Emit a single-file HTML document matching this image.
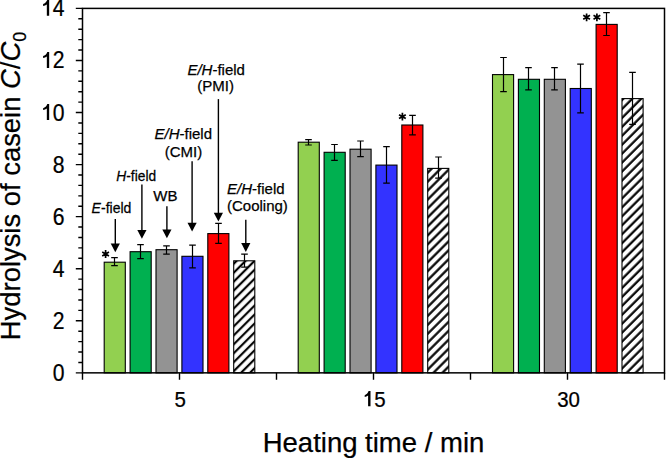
<!DOCTYPE html><html><head><meta charset="utf-8"><style>html,body{margin:0;padding:0;background:#fff;}svg{display:block;}text{font-family:"Liberation Sans",sans-serif;fill:#000;stroke:#000;stroke-width:0.25px;}</style></head><body>
<svg width="666" height="458" viewBox="0 0 666 458">
<defs><pattern id="hatch0" patternUnits="userSpaceOnUse" width="6.329" height="6.329" patternTransform="rotate(45)"><rect width="6.329" height="6.329" fill="#fff"/><rect x="2.577" y="0" width="2.2" height="6.329" fill="#000"/><rect x="-3.752" y="0" width="2.2" height="6.329" fill="#000"/><rect x="8.906" y="0" width="2.2" height="6.329" fill="#000"/></pattern><pattern id="hatch1" patternUnits="userSpaceOnUse" width="6.329" height="6.329" patternTransform="rotate(45)"><rect width="6.329" height="6.329" fill="#fff"/><rect x="-0.605" y="0" width="2.2" height="6.329" fill="#000"/><rect x="-6.934" y="0" width="2.2" height="6.329" fill="#000"/><rect x="5.724" y="0" width="2.2" height="6.329" fill="#000"/></pattern><pattern id="hatch2" patternUnits="userSpaceOnUse" width="6.329" height="6.329" patternTransform="rotate(45)"><rect width="6.329" height="6.329" fill="#fff"/><rect x="3.107" y="0" width="2.2" height="6.329" fill="#000"/><rect x="-3.221" y="0" width="2.2" height="6.329" fill="#000"/><rect x="9.436" y="0" width="2.2" height="6.329" fill="#000"/></pattern></defs>
<rect x="104.20" y="262.20" width="21.10" height="110.65" fill="#92D050" stroke="#000" stroke-width="1.1"/>
<rect x="130.10" y="251.70" width="21.10" height="121.15" fill="#00B050" stroke="#000" stroke-width="1.1"/>
<rect x="156.00" y="249.70" width="21.10" height="123.15" fill="#939393" stroke="#000" stroke-width="1.1"/>
<rect x="181.90" y="256.30" width="21.10" height="116.55" fill="#3333FF" stroke="#000" stroke-width="1.1"/>
<rect x="207.80" y="233.60" width="21.10" height="139.25" fill="#FF0000" stroke="#000" stroke-width="1.1"/>
<rect x="233.70" y="260.80" width="21.10" height="112.05" fill="url(#hatch0)" stroke="#000" stroke-width="1.1"/>
<rect x="298.20" y="142.20" width="21.10" height="230.65" fill="#92D050" stroke="#000" stroke-width="1.1"/>
<rect x="324.10" y="152.30" width="21.10" height="220.55" fill="#00B050" stroke="#000" stroke-width="1.1"/>
<rect x="350.00" y="149.20" width="21.10" height="223.65" fill="#939393" stroke="#000" stroke-width="1.1"/>
<rect x="375.90" y="165.10" width="21.10" height="207.75" fill="#3333FF" stroke="#000" stroke-width="1.1"/>
<rect x="401.80" y="125.00" width="21.10" height="247.85" fill="#FF0000" stroke="#000" stroke-width="1.1"/>
<rect x="427.70" y="168.40" width="21.10" height="204.45" fill="url(#hatch1)" stroke="#000" stroke-width="1.1"/>
<rect x="492.50" y="74.60" width="21.10" height="298.25" fill="#92D050" stroke="#000" stroke-width="1.1"/>
<rect x="518.40" y="79.30" width="21.10" height="293.55" fill="#00B050" stroke="#000" stroke-width="1.1"/>
<rect x="544.30" y="79.30" width="21.10" height="293.55" fill="#939393" stroke="#000" stroke-width="1.1"/>
<rect x="570.20" y="88.50" width="21.10" height="284.35" fill="#3333FF" stroke="#000" stroke-width="1.1"/>
<rect x="596.10" y="24.40" width="21.10" height="348.45" fill="#FF0000" stroke="#000" stroke-width="1.1"/>
<rect x="622.00" y="98.60" width="21.10" height="274.25" fill="url(#hatch2)" stroke="#000" stroke-width="1.1"/>
<path d="M114.50 257.60V265.60M111.20 257.60H117.80M111.20 265.60H117.80" stroke="#000" stroke-width="1.2" fill="none"/>
<path d="M140.50 244.60V258.60M137.20 244.60H143.80M137.20 258.60H143.80" stroke="#000" stroke-width="1.2" fill="none"/>
<path d="M166.50 245.80V254.20M163.20 245.80H169.80M163.20 254.20H169.80" stroke="#000" stroke-width="1.2" fill="none"/>
<path d="M192.50 245.10V267.80M189.20 245.10H195.80M189.20 267.80H195.80" stroke="#000" stroke-width="1.2" fill="none"/>
<path d="M218.50 223.30V243.40M215.20 223.30H221.80M215.20 243.40H221.80" stroke="#000" stroke-width="1.2" fill="none"/>
<path d="M244.50 254.20V267.20M241.20 254.20H247.80M241.20 267.20H247.80" stroke="#000" stroke-width="1.2" fill="none"/>
<path d="M308.50 139.60V145.00M305.20 139.60H311.80M305.20 145.00H311.80" stroke="#000" stroke-width="1.2" fill="none"/>
<path d="M334.50 144.50V160.40M331.20 144.50H337.80M331.20 160.40H337.80" stroke="#000" stroke-width="1.2" fill="none"/>
<path d="M360.50 141.00V156.70M357.20 141.00H363.80M357.20 156.70H363.80" stroke="#000" stroke-width="1.2" fill="none"/>
<path d="M386.50 146.60V183.20M383.20 146.60H389.80M383.20 183.20H389.80" stroke="#000" stroke-width="1.2" fill="none"/>
<path d="M412.50 115.30V134.90M409.20 115.30H415.80M409.20 134.90H415.80" stroke="#000" stroke-width="1.2" fill="none"/>
<path d="M438.50 157.00V178.20M435.20 157.00H441.80M435.20 178.20H441.80" stroke="#000" stroke-width="1.2" fill="none"/>
<path d="M503.50 57.50V91.60M500.20 57.50H506.80M500.20 91.60H506.80" stroke="#000" stroke-width="1.2" fill="none"/>
<path d="M528.50 67.60V89.80M525.20 67.60H531.80M525.20 89.80H531.80" stroke="#000" stroke-width="1.2" fill="none"/>
<path d="M554.50 67.60V89.80M551.20 67.60H557.80M551.20 89.80H557.80" stroke="#000" stroke-width="1.2" fill="none"/>
<path d="M580.50 64.20V112.80M577.20 64.20H583.80M577.20 112.80H583.80" stroke="#000" stroke-width="1.2" fill="none"/>
<path d="M606.50 12.60V35.50M603.20 12.60H609.80M603.20 35.50H609.80" stroke="#000" stroke-width="1.2" fill="none"/>
<path d="M632.50 72.40V124.40M629.20 72.40H635.80M629.20 124.40H635.80" stroke="#000" stroke-width="1.2" fill="none"/>
<rect x="82.5" y="8.4" width="582.0" height="364.45000000000005" fill="none" stroke="#000" stroke-width="1.5"/>
<path d="M75.8 372.85H82.5M78.3 362.44H82.5M78.3 352.02H82.5M78.3 341.61H82.5M78.3 331.20H82.5M75.8 320.79H82.5M78.3 310.37H82.5M78.3 299.96H82.5M78.3 289.55H82.5M78.3 279.13H82.5M75.8 268.72H82.5M78.3 258.31H82.5M78.3 247.90H82.5M78.3 237.48H82.5M78.3 227.07H82.5M75.8 216.66H82.5M78.3 206.24H82.5M78.3 195.83H82.5M78.3 185.42H82.5M78.3 175.01H82.5M75.8 164.59H82.5M78.3 154.18H82.5M78.3 143.77H82.5M78.3 133.35H82.5M78.3 122.94H82.5M75.8 112.53H82.5M78.3 102.12H82.5M78.3 91.70H82.5M78.3 81.29H82.5M78.3 70.88H82.5M75.8 60.46H82.5M78.3 50.05H82.5M78.3 39.64H82.5M78.3 29.23H82.5M78.3 18.81H82.5M75.8 8.40H82.5" stroke="#000" stroke-width="1.4" fill="none"/>
<path d="M82.50 372.85V379.8M179.50 372.85V379.8M276.50 372.85V379.8M373.50 372.85V379.8M470.50 372.85V379.8M567.50 372.85V379.8M664.50 372.85V379.8" stroke="#000" stroke-width="1.4" fill="none"/>
<text transform="translate(64.4,380.85) scale(0.9,1)" font-size="23.5" text-anchor="end">0</text>
<text transform="translate(64.4,328.79) scale(0.9,1)" font-size="23.5" text-anchor="end">2</text>
<text transform="translate(64.4,276.72) scale(0.9,1)" font-size="23.5" text-anchor="end">4</text>
<text transform="translate(64.4,224.66) scale(0.9,1)" font-size="23.5" text-anchor="end">6</text>
<text transform="translate(64.4,172.59) scale(0.9,1)" font-size="23.5" text-anchor="end">8</text>
<path d="M49.17 103.96L49.17 119.96L46.83 119.96L46.83 108.56C45.70 109.46 44.40 109.86 43.10 110.06L43.10 108.16C45.00 107.66 46.60 105.96 47.30 103.96Z" fill="#000"/>
<text transform="translate(64.4,120.53) scale(0.9,1)" font-size="23.5" text-anchor="end">0</text>
<path d="M49.17 51.89L49.17 67.89L46.83 67.89L46.83 56.49C45.70 57.39 44.40 57.79 43.10 57.99L43.10 56.09C45.00 55.59 46.60 53.89 47.30 51.89Z" fill="#000"/>
<text transform="translate(64.4,68.46) scale(0.9,1)" font-size="23.5" text-anchor="end">2</text>
<path d="M49.17 -0.17L49.17 15.83L46.83 15.83L46.83 4.43C45.70 5.33 44.40 5.73 43.10 5.93L43.10 4.03C45.00 3.53 46.60 1.83 47.30 -0.17Z" fill="#000"/>
<text transform="translate(64.4,16.40) scale(0.9,1)" font-size="23.5" text-anchor="end">4</text>
<text transform="translate(180.30,406.8) scale(0.93,1)" font-size="22" text-anchor="middle">5</text>
<path d="M370.50 391.00L370.50 406.30L368.10 406.30L368.10 395.60C367.00 396.50 365.70 396.90 364.70 397.10L364.70 395.20C366.30 394.70 367.90 393.00 368.60 391.00Z" fill="#000"/>
<text transform="translate(385.68,406.8) scale(0.93,1)" font-size="22" text-anchor="end">5</text>
<text transform="translate(568.60,406.8) scale(0.93,1)" font-size="22" text-anchor="middle">30</text>
<text x="373.5" y="452" font-size="27.5" text-anchor="middle">Heating time / min</text>
<text transform="translate(20,186) rotate(-90)" font-size="27.4" text-anchor="middle">Hydrolysis of casein <tspan font-style="italic">C</tspan>/<tspan font-style="italic">C</tspan><tspan font-size="18" dy="5.5">0</tspan></text>
<path d="M115.30 219.00V246.20" stroke="#000" stroke-width="1.4" fill="none"/>
<path d="M110.70 243.40L119.90 243.40L115.30 252.20Z" fill="#000"/>
<path d="M141.90 184.50V232.70" stroke="#000" stroke-width="1.4" fill="none"/>
<path d="M137.30 229.90L146.50 229.90L141.90 238.70Z" fill="#000"/>
<path d="M166.90 206.30V232.30" stroke="#000" stroke-width="1.4" fill="none"/>
<path d="M162.30 229.50L171.50 229.50L166.90 238.30Z" fill="#000"/>
<path d="M192.10 161.20V225.60" stroke="#000" stroke-width="1.4" fill="none"/>
<path d="M187.50 222.80L196.70 222.80L192.10 231.60Z" fill="#000"/>
<path d="M218.40 99.10V215.50" stroke="#000" stroke-width="1.4" fill="none"/>
<path d="M213.80 212.70L223.00 212.70L218.40 221.50Z" fill="#000"/>
<path d="M245.80 219.70V245.90" stroke="#000" stroke-width="1.4" fill="none"/>
<path d="M241.20 243.10L250.40 243.10L245.80 251.90Z" fill="#000"/>
<text transform="translate(91.6,212.6) scale(0.935,1)" font-size="15"><tspan font-style="italic">E</tspan>-field</text>
<text transform="translate(116.3,180.8) scale(0.92,1)" font-size="15"><tspan font-style="italic">H</tspan>-field</text>
<text x="153.3" y="200.7" font-size="15">WB</text>
<text x="154.5" y="139.4" font-size="15"><tspan font-style="italic">E/H</tspan>-field</text>
<text x="164.7" y="156.6" font-size="15">(CMI)</text>
<text x="187.4" y="74.5" font-size="15"><tspan font-style="italic">E/H</tspan>-field</text>
<text x="197.25" y="91.0" font-size="15">(PMI)</text>
<text x="227.1" y="193.6" font-size="15"><tspan font-style="italic">E/H</tspan>-field</text>
<text x="227.0" y="210.5" font-size="15">(Cooling)</text>
<path d="M105.60 250.10L105.60 257.90M102.22 252.05L108.98 255.95M108.98 252.05L102.22 255.95" stroke="#000" stroke-width="1.7" fill="none"/>
<path d="M402.40 112.70L402.40 120.50M399.02 114.65L405.78 118.55M405.78 114.65L399.02 118.55" stroke="#000" stroke-width="1.7" fill="none"/>
<path d="M586.60 13.40L586.60 21.20M583.22 15.35L589.98 19.25M589.98 15.35L583.22 19.25" stroke="#000" stroke-width="1.7" fill="none"/>
<path d="M596.90 13.40L596.90 21.20M593.52 15.35L600.28 19.25M600.28 15.35L593.52 19.25" stroke="#000" stroke-width="1.7" fill="none"/>
</svg></body></html>
